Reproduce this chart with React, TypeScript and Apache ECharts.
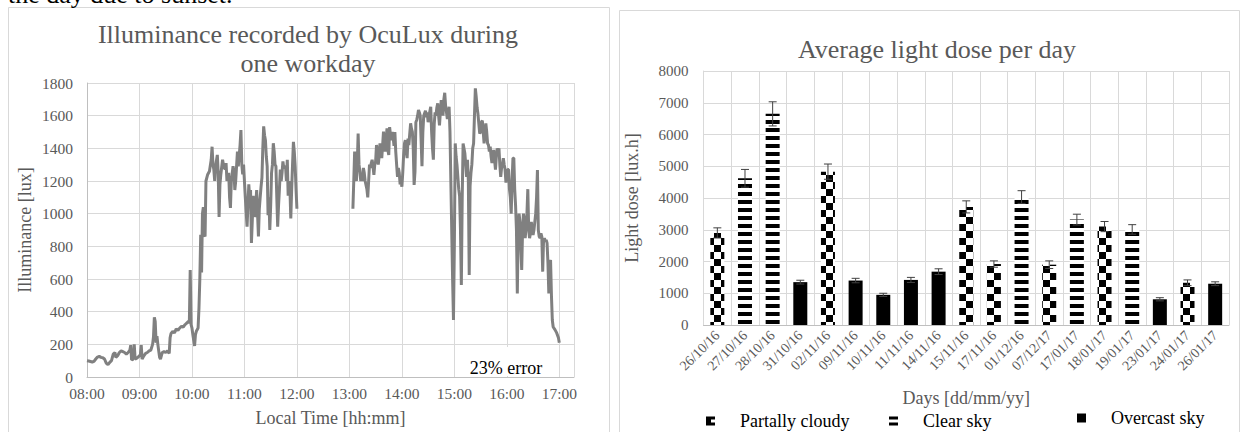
import { useEffect, useRef } from "react";
import * as echarts from "echarts";

const SERIF = "'Liberation Serif', 'Times New Roman', serif";
const GREY = "#595959";
const GRID = "#d9d9d9";
const AXIS = "#bfbfbf";

// ---------- Left chart: illuminance during one workday ----------
const clockTimes = [
  "08:00","08:02","08:04","08:06","08:08","08:10","08:12","08:14","08:16","08:18","08:20","08:22","08:24","08:26","08:28","08:30","08:32","08:33","08:35","08:37","08:39","08:41","08:43","08:45","08:47","08:49","08:50","08:51","08:53","08:54","08:55","08:57","08:59",
  "09:01","09:02","09:03","09:05","09:07","09:09","09:11","09:13","09:15","09:16","09:17","09:18","09:19","09:20","09:21","09:23","09:24","09:26","09:28","09:30","09:32","09:34","09:35","09:36","09:38","09:40","09:42","09:44","09:46","09:48","09:50","09:52","09:54","09:56","09:57","09:58","09:59",
  "10:00","10:01","10:03","10:04","10:05","10:07","10:08","10:09","10:10","10:11","10:12","10:13","10:14","10:15","10:16","10:18","10:20","10:22","10:23","10:24","10:25","10:26","10:27","10:29","10:30","10:31","10:32","10:33","10:35","10:36","10:38","10:39","10:40","10:42","10:43","10:44","10:45","10:47","10:48","10:49","10:50","10:52","10:53","10:55","10:56","10:57","10:58","10:59",
  "11:01","11:03","11:04","11:05","11:06","11:07","11:08","11:09","11:10","11:11","11:12","11:13","11:14","11:15","11:16","11:17","11:18","11:19","11:20","11:21","11:22","11:23","11:24","11:25","11:26","11:27","11:28","11:29","11:30","11:31","11:32","11:33","11:34","11:35","11:36","11:37","11:38","11:39","11:40","11:41","11:42","11:43","11:44","11:45","11:47","11:48","11:49","11:50","11:51","11:52","11:53","11:54","11:55","11:56","11:57","11:58","11:59","12:00",
  "12:30",
  "13:04","13:05","13:06","13:07","13:08","13:09","13:10","13:11","13:12","13:13","13:14","13:15","13:16","13:17","13:18","13:20","13:21","13:22","13:23","13:24","13:25","13:26","13:27","13:28","13:29","13:30","13:31","13:32","13:33","13:34","13:35","13:36","13:37","13:38","13:39","13:40","13:41","13:42","13:43","13:44","13:45","13:46","13:47","13:48","13:49","13:50","13:51","13:52","13:53","13:54","13:55","13:56","13:57","13:58","13:59",
  "14:00","14:01","14:02","14:03","14:04","14:05","14:06","14:07","14:08","14:09","14:10","14:11","14:12","14:13","14:14","14:15","14:16","14:17","14:18","14:19","14:20","14:21","14:22","14:23","14:24","14:25","14:27","14:28","14:29","14:30","14:31","14:33","14:34","14:35","14:36","14:37","14:38","14:39","14:40","14:41","14:42","14:43","14:44","14:45","14:46","14:47","14:48","14:49","14:50","14:51","14:52","14:53","14:54","14:55","14:56","14:57","14:58","14:59",
  "15:00","15:01","15:02","15:03","15:04","15:05","15:06","15:07","15:08","15:09","15:10","15:11","15:12","15:13","15:14","15:15","15:16","15:17","15:18","15:19","15:20","15:21","15:22","15:23","15:24","15:25","15:26","15:27","15:28","15:29","15:30","15:31","15:32","15:33","15:34","15:35","15:36","15:37","15:38","15:39","15:40","15:41","15:42","15:43","15:44","15:45","15:46","15:47","15:48","15:49","15:50","15:51","15:52","15:53","15:54","15:55","15:56","15:57","15:58","15:59",
  "16:00","16:01","16:02","16:03","16:04","16:05","16:06","16:07","16:08","16:09","16:10","16:11","16:12","16:13","16:14","16:15","16:16","16:17","16:18","16:19","16:20","16:21","16:22","16:23","16:24","16:25","16:26","16:27","16:28","16:29","16:30","16:31","16:32","16:33","16:34","16:35","16:36","16:37","16:38","16:39","16:40","16:41","16:42","16:43","16:44","16:45","16:46","16:47","16:48","16:49","16:50","16:51","16:52","16:53","16:55","16:57","16:59","17:00",
];

const illuminance: (number | null)[] = [
  100,98,95,92,96,110,122,126,120,118,110,85,75,90,100,140,150,120,130,150,160,155,150,140,150,165,195,105,110,200,110,115,125,
  135,195,110,130,145,150,160,165,200,245,365,340,210,250,200,120,110,150,155,150,160,145,240,265,280,270,295,285,300,310,305,320,330,340,330,655,320,
  300,260,190,260,280,300,420,600,870,640,1000,1040,870,860,1200,1240,1260,1330,1410,1300,1270,1200,1290,1360,1250,980,1180,1240,1330,1300,1270,1310,1200,1250,1100,1035,1200,1290,1260,1145,1200,1380,1290,1420,1512,1300,1240,1300,
  1100,920,1050,1180,1090,1145,820,960,1110,1000,980,1060,1145,1000,860,1030,1100,1166,1220,1400,1535,1480,1450,1350,1290,990,1100,900,1050,1250,1300,1431,1380,1300,1290,1100,920,1050,1150,1270,1200,1250,1320,1280,1290,1200,1330,1110,1200,1155,970,1150,1300,1440,1380,1290,1150,1030,
  null,
  1030,1200,1380,1240,1200,1300,1490,1300,1260,1200,1230,1200,1280,1250,1200,1150,1100,1200,1300,1280,1310,1330,1290,1237,1300,1320,1420,1380,1300,1350,1430,1380,1340,1420,1502,1430,1380,1450,1523,1390,1360,1530,1480,1450,1500,1470,1415,1500,1380,1300,1225,1280,1250,1180,1200,
  1165,1250,1360,1430,1451,1380,1340,1460,1420,1490,1553,1520,1500,1400,1176,1257,1560,1574,1600,1635,1620,1600,1450,1290,1500,1600,1630,1590,1620,1560,1600,1655,1500,1400,1331,1550,1620,1600,1650,1676,1600,1540,1620,1696,1650,1600,1700,1740,1660,1620,1580,1600,1655,1500,1200,900,600,349,
  800,1430,1350,1300,1225,1150,1108,900,563,1100,1430,1400,1370,1300,1225,1330,1200,624,1170,1250,1300,1400,1430,1600,1767,1715,1650,1610,1550,1490,1500,1560,1570,1500,1430,1480,1553,1500,1430,1420,1380,1410,1350,1310,1360,1390,1330,1270,1350,1400,1380,1400,1300,1225,1280,1300,1340,1300,1270,1190,
  1250,1270,1270,1150,1100,1000,1200,1340,1340,1150,1050,900,512,900,1000,950,800,655,900,1000,950,850,920,1000,1150,900,850,880,950,900,870,900,950,1000,1100,1267,900,860,850,880,860,645,840,850,830,840,820,700,512,700,716,500,349,306,290,270,240,210,
];

// ---------- Right chart: average light dose per day ----------
const dayLabels = [
  "26/10/16","27/10/16","28/10/16","31/10/16","02/11/16","09/11/16","10/11/16","11/11/16","14/11/16","15/11/16",
  "17/11/16","01/12/16","07/12/17","17/01/17","18/01/17","19/01/17","23/01/17","24/01/17","26/01/17",
];
const skyCondition = ["P","C","C","O","P","O","O","O","O","P","P","C","P","C","P","C","O","P","O"];
const lightDose = [2900,4620,6650,1350,4830,1400,950,1420,1680,3720,1920,4030,1900,3320,3100,3010,810,1330,1300];
const lightDoseError = [160,280,380,60,240,70,50,80,90,190,100,200,120,170,160,150,50,90,60];
const legendNames = ["Partally cloudy", "Clear sky", "Overcast sky"];

const toHours = (s: string) => {
  const [h, m] = s.split(":").map(Number);
  return h + m / 60;
};

const checkerDecal = {
  symbol: "rect",
  symbolSize: 1,
  symbolKeepAspect: false,
  color: "#000",
  dashArrayX: [[7, 7], [0, 7, 7, 0]],
  dashArrayY: [6.5, 0],
  rotation: 0,
};
const stripeDecal = {
  symbol: "rect",
  symbolSize: 1,
  symbolKeepAspect: false,
  color: "#000",
  dashArrayX: [14, 0],
  dashArrayY: [3.2, 3.1],
  rotation: 0,
};

export default function App() {
  const ref = useRef<HTMLDivElement>(null);

  useEffect(() => {
    document.body.style.margin = "0";
    if (!ref.current) return;
    const chart = echarts.init(ref.current, undefined, { renderer: "svg" });

    const lineData = clockTimes.map((t, i) => [toHours(t), illuminance[i] === null ? null : illuminance[i]]);
    const pick = (code: string) => lightDose.map((v, i) => (skyCondition[i] === code ? v : "-"));

    const barCommon = {
      type: "bar",
      xAxisIndex: 1,
      yAxisIndex: 1,
      barWidth: 14,
      barGap: "-100%",
    };

    const legendCommon = {
      orient: "horizontal",
      selectedMode: false,
      padding: 0,
      itemWidth: 9,
      itemHeight: 9,
      textStyle: { fontFamily: SERIF, fontSize: 18, color: "#000", padding: [0, 0, 0, 20] },
    };
    const legendIcons = [
      "path://M0,0H9V3H5V6H9V9H0Z",
      "path://M0,0H9V3H0Z M0,6H9V9H0Z",
      "path://M0,0H9V9H0Z",
    ];
    const legendItem = (k: number) => ({
      name: legendNames[k],
      icon: legendIcons[k],
      itemStyle: { color: "#000", decal: "none", borderWidth: 0 },
    });

    const plainNum = (v: number) => String(v);

    const option: any = {
      animation: false,
      textStyle: { fontFamily: SERIF },
      title: [
        {
          text: "Illuminance recorded by OcuLux during\none workday",
          left: 308,
          top: 20,
          textAlign: "center",
          padding: 0,
          textStyle: { fontFamily: SERIF, fontSize: 26, fontWeight: "normal", color: GREY, lineHeight: 29 },
        },
        {
          text: "Average light dose per day",
          left: 937,
          top: 34,
          textAlign: "center",
          padding: 0,
          textStyle: { fontFamily: SERIF, fontSize: 26, fontWeight: "normal", color: GREY, lineHeight: 30 },
        },
      ],
      grid: [
        { left: 87, top: 83, width: 487, height: 294, containLabel: false },
        { left: 703.5, top: 71, width: 525.5, height: 254, containLabel: false },
      ],
      xAxis: [
        {
          gridIndex: 0,
          type: "value",
          min: 8,
          max: 17.28,
          interval: 1,
          axisLine: { show: true, lineStyle: { color: AXIS } },
          axisTick: { show: false },
          axisLabel: {
            color: GREY,
            fontSize: 15.5,
            margin: 8,
            formatter: (v: number) => (Number.isInteger(v) ? `${String(v).padStart(2, "0")}:00` : ""),
          },
          splitLine: { show: true, lineStyle: { color: GRID } },
          name: "Local Time [hh:mm]",
          nameLocation: "middle",
          nameGap: 32,
          nameTextStyle: { color: GREY, fontSize: 18, fontFamily: SERIF },
        },
        {
          gridIndex: 1,
          type: "category",
          data: dayLabels,
          boundaryGap: true,
          axisLine: { show: true, lineStyle: { color: AXIS } },
          axisTick: { show: false },
          axisLabel: { interval: 0, rotate: 45, color: GREY, fontSize: 14, margin: 8 },
          splitLine: { show: true, interval: 0, lineStyle: { color: GRID } },
          name: "Days [dd/mm/yy]",
          nameLocation: "middle",
          nameGap: 64,
          nameTextStyle: { color: GREY, fontSize: 18, fontFamily: SERIF },
        },
      ],
      yAxis: [
        {
          gridIndex: 0,
          type: "value",
          min: 0,
          max: 1800,
          interval: 200,
          axisLine: { show: true, lineStyle: { color: AXIS } },
          axisTick: { show: false },
          axisLabel: { color: GREY, fontSize: 15.5, margin: 14, formatter: plainNum },
          splitLine: { show: true, lineStyle: { color: GRID } },
          name: "Illuminance [lux]",
          nameLocation: "middle",
          nameGap: 53,
          nameTextStyle: { color: GREY, fontSize: 18, fontFamily: SERIF },
        },
        {
          gridIndex: 1,
          type: "value",
          min: 0,
          max: 8000,
          interval: 1000,
          axisLine: { show: true, lineStyle: { color: GRID } },
          axisTick: { show: false },
          axisLabel: { color: GREY, fontSize: 15, margin: 15, formatter: plainNum },
          splitLine: { show: true, lineStyle: { color: GRID } },
          name: "Light dose [lux.h]",
          nameLocation: "middle",
          nameGap: 63,
          nameTextStyle: { color: GREY, fontSize: 18, fontFamily: SERIF },
        },
      ],
      legend: [
        { ...legendCommon, data: [legendItem(0)], left: 706, top: 412 },
        { ...legendCommon, data: [legendItem(1)], left: 889, top: 412 },
        { ...legendCommon, data: [legendItem(2)], left: 1077, top: 409 },
      ],
      series: [
        {
          type: "line",
          name: "Illuminance",
          xAxisIndex: 0,
          yAxisIndex: 0,
          data: lineData,
          showSymbol: false,
          connectNulls: false,
          lineStyle: { color: "#808080", width: 3 },
          itemStyle: { color: "#808080" },
        },
        {
          ...barCommon,
          name: legendNames[0],
          data: pick("P"),
          itemStyle: { color: "#fff", decal: checkerDecal },
        },
        {
          ...barCommon,
          name: legendNames[1],
          data: pick("C"),
          itemStyle: { color: "#fff", decal: stripeDecal },
        },
        {
          ...barCommon,
          name: legendNames[2],
          data: pick("O"),
          itemStyle: { color: "#000" },
        },
        {
          type: "custom",
          name: "error",
          xAxisIndex: 1,
          yAxisIndex: 1,
          z: 10,
          data: lightDose.map((v, i) => [i, v, lightDoseError[i]]),
          renderItem: (_params: any, api: any) => {
            const i = api.value(0);
            const v = api.value(1);
            const e = api.value(2);
            const top = api.coord([i, v + e]);
            const bot = api.coord([i, v - e]);
            const hw = 4;
            const st = { stroke: "#404040", lineWidth: 1 };
            return {
              type: "group",
              children: [
                { type: "line", shape: { x1: top[0], y1: top[1], x2: bot[0], y2: bot[1] }, style: st },
                { type: "line", shape: { x1: top[0] - hw, y1: top[1], x2: top[0] + hw, y2: top[1] }, style: st },
                { type: "line", shape: { x1: bot[0] - hw, y1: bot[1], x2: bot[0] + hw, y2: bot[1] }, style: st },
              ],
            };
          },
        },
      ],
      graphic: [
        {
          type: "rect",
          shape: { x: 8.5, y: 7.5, width: 601, height: 440 },
          style: { fill: "none", stroke: GRID, lineWidth: 1 },
          silent: true,
        },
        {
          type: "rect",
          shape: { x: 619.5, y: 10.5, width: 620, height: 440 },
          style: { fill: "none", stroke: GRID, lineWidth: 1 },
          silent: true,
        },
        {
          type: "rect",
          shape: { x: 456, y: 347, width: 100, height: 29 },
          style: { fill: "#fff" },
          z: 100,
          silent: true,
        },
        {
          type: "text",
          x: 506,
          y: 368,
          z: 101,
          style: { text: "23% error", font: `18px ${SERIF}`, fill: "#000", align: "center", verticalAlign: "middle" },
        },
        {
          type: "text",
          x: 8,
          y: -6,
          style: { text: "the day due to sunset.", font: `26px ${SERIF}`, fill: "#000", align: "left", verticalAlign: "middle" },
        },
      ],
    };

    chart.setOption(option);
    return () => chart.dispose();
  }, []);

  return <div ref={ref} style={{ width: 1242, height: 432 }} />;
}
